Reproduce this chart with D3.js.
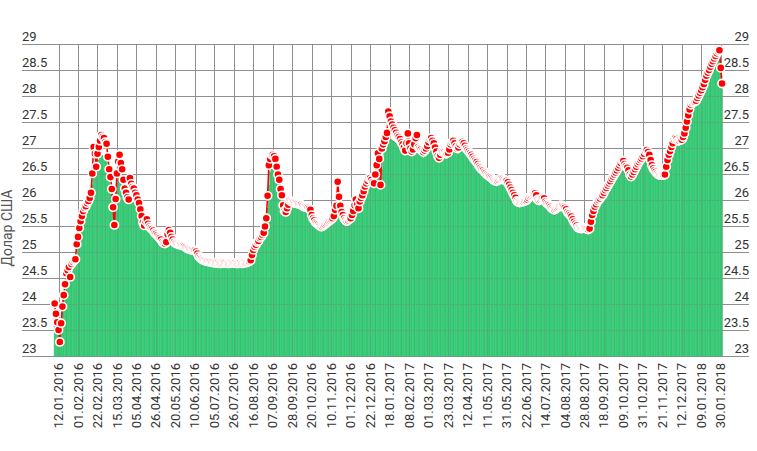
<!DOCTYPE html>
<html><head><meta charset="utf-8">
<script src="https://cdn.jsdelivr.net/npm/d3@7"></script>
<style>body{margin:0;background:#fff}svg{display:block}text{font-family:Roboto,"Open Sans",Arial,sans-serif}</style>
</head><body><svg id="c" width="757" height="451"></svg>
<script>
const tickLabels = ["12.01.2016","01.02.2016","22.02.2016","15.03.2016","05.04.2016","26.04.2016","20.05.2016","10.06.2016","05.07.2016","26.07.2016","16.08.2016","07.09.2016","28.09.2016","20.10.2016","10.11.2016","01.12.2016","22.12.2016","18.01.2017","08.02.2017","01.03.2017","23.03.2017","12.04.2017","11.05.2017","31.05.2017","22.06.2017","14.07.2017","04.08.2017","28.08.2017","18.09.2017","09.10.2017","31.10.2017","21.11.2017","12.12.2017","09.01.2018","30.01.2018"];
const tickStart = 3, tickStep = 15;
const yTicks = [23,23.5,24,24.5,25,25.5,26,26.5,27,27.5,28,28.5,29];
const yTitle = "Долар США";

// red points (market rate)
const marketRate = [
24.02,23.82,23.66,23.51,23.28,23.64,23.96,24.18,24.39,24.60,24.66,24.72,24.53,24.78,24.82,24.85,24.87,25.16,
25.30,25.47,25.60,25.70,25.80,25.86,25.89,25.95,25.99,26.05,26.15,26.52,27.03,26.90,26.65,
26.90,27.03,27.15,27.26,27.22,27.20,27.12,27.09,26.84,26.60,26.45,26.22,25.87,25.53,26.03,
26.52,26.75,26.88,26.72,26.60,26.40,26.23,26.15,26.06,26.02,26.43,26.32,26.26,26.23,26.15,
26.10,26.02,25.95,25.83,25.70,25.58,25.52,25.60,25.64,25.55,25.50,25.47,25.45,25.42,25.38,
25.36,25.33,25.30,25.28,25.25,25.20,25.18,25.17,25.20,25.35,25.43,25.38,25.30,25.25,25.20,
25.18,25.17,25.16,25.15,25.15,25.14,25.13,25.12,25.10,25.08,25.07,25.06,25.05,25.05,25.04,
25.04,25.02,24.98,24.93,24.90,24.88,24.86,24.85,24.84,24.83,24.83,24.82,24.82,24.81,24.81,
24.80,24.80,24.81,24.80,24.79,24.79,24.80,24.80,24.81,24.80,24.79,24.79,24.80,24.80,24.80,
24.80,24.80,24.79,24.79,24.80,24.80,24.79,24.80,24.80,24.80,24.81,24.82,24.83,24.85,24.95,
25.05,25.11,25.15,25.20,25.22,25.28,25.30,25.34,25.38,25.50,25.66,26.09,26.68,26.80,26.88,
26.88,26.85,26.80,26.65,26.50,26.40,26.22,26.10,25.91,25.80,25.78,25.85,25.92,26.00,25.98,
25.97,25.96,25.95,25.95,25.94,25.93,25.92,25.92,25.90,25.88,25.88,25.87,25.86,25.84,25.82,
25.72,25.66,25.62,25.58,25.56,25.54,25.52,25.50,25.50,25.52,25.54,25.56,25.58,25.60,25.62,
25.64,25.66,25.70,25.82,25.90,26.36,26.07,25.90,25.78,25.72,25.66,25.62,25.60,25.62,25.65,
25.66,25.72,25.80,25.91,26.02,25.92,25.85,25.98,26.05,26.10,26.18,26.27,26.33,26.38,26.43,
26.43,26.40,26.35,26.33,26.50,26.68,26.91,26.80,26.30,27.00,27.08,27.14,27.22,27.30,27.71,
27.62,27.52,27.46,27.40,27.35,27.30,27.25,27.22,27.18,27.12,27.08,27.02,26.96,27.10,27.29,
27.10,27.00,26.94,26.98,27.08,27.20,27.26,27.03,27.00,26.98,26.95,26.93,26.96,27.00,27.05,
27.12,27.18,27.20,27.15,27.10,27.02,26.94,26.86,26.82,26.88,26.94,26.93,26.92,26.90,26.91,
26.92,26.98,27.08,27.12,27.15,27.10,27.04,27.00,27.02,27.08,27.12,27.13,27.10,27.05,27.00,
26.97,26.94,26.91,26.88,26.84,26.80,26.77,26.74,26.70,26.66,26.63,26.60,26.58,26.55,26.53,
26.50,26.48,26.46,26.44,26.42,26.40,26.38,26.37,26.38,26.40,26.42,26.43,26.42,26.40,26.38,
26.38,26.35,26.30,26.25,26.20,26.15,26.10,26.05,25.99,25.97,25.96,25.97,25.98,25.98,25.99,
26.00,26.02,26.05,26.08,26.10,26.12,26.13,26.14,26.10,26.02,26.00,26.02,26.04,26.05,26.04,
25.98,25.95,25.93,25.91,25.88,25.85,25.83,25.82,25.84,25.86,25.88,25.90,25.91,25.90,25.88,
25.86,25.83,25.78,25.75,25.72,25.69,25.64,25.59,25.55,25.52,25.48,25.47,25.46,25.46,25.47,
25.47,25.46,25.45,25.44,25.46,25.59,25.72,25.80,25.88,25.93,25.98,26.01,26.04,26.08,26.10,
26.15,26.20,26.24,26.29,26.33,26.37,26.42,26.46,26.50,26.54,26.58,26.63,26.68,26.72,26.77,
26.76,26.70,26.66,26.63,26.58,26.50,26.46,26.50,26.55,26.60,26.65,26.70,26.74,26.78,26.81,
26.85,26.90,26.95,26.97,26.93,26.88,26.78,26.68,26.62,26.58,26.55,26.52,26.50,26.49,26.49,
26.49,26.49,26.50,26.65,26.78,26.88,26.95,27.03,27.10,27.18,27.20,27.18,27.15,27.15,27.17,
27.17,27.22,27.29,27.40,27.52,27.64,27.75,27.84,27.88,27.90,27.90,27.92,27.97,28.02,28.07,
28.12,28.18,28.24,28.32,28.40,28.46,28.51,28.57,28.63,28.68,28.73,28.78,28.83,28.87,28.89,
28.55,28.25];

// green bars (official rate)
const officialRate = [
23.95,23.78,23.60,23.45,23.25,23.50,23.85,24.08,24.28,24.48,24.55,24.60,24.50,24.62,24.68,24.72,24.76,24.95,
25.15,25.35,25.50,25.60,25.70,25.76,25.80,25.85,25.90,25.95,26.05,26.30,26.60,26.72,26.62,
26.70,26.78,26.82,26.85,26.86,26.85,26.82,26.78,26.68,26.50,26.30,26.12,25.90,25.72,25.85,
26.20,26.45,26.62,26.60,26.50,26.35,26.18,26.08,26.00,25.95,26.15,26.20,26.18,26.15,26.08,
26.00,25.92,25.85,25.75,25.63,25.52,25.46,25.50,25.52,25.48,25.44,25.41,25.38,25.35,25.31,
25.29,25.26,25.24,25.22,25.19,25.15,25.13,25.12,25.14,25.24,25.32,25.32,25.26,25.21,25.16,
25.14,25.13,25.12,25.11,25.11,25.10,25.09,25.08,25.06,25.04,25.03,25.02,25.01,25.01,25.00,
24.99,24.97,24.93,24.89,24.86,24.84,24.82,24.81,24.80,24.79,24.79,24.78,24.78,24.77,24.77,
24.77,24.77,24.78,24.77,24.76,24.76,24.77,24.77,24.78,24.77,24.76,24.76,24.77,24.77,24.77,
24.77,24.77,24.76,24.76,24.77,24.77,24.76,24.77,24.77,24.77,24.78,24.79,24.80,24.82,24.90,
24.98,25.05,25.10,25.15,25.18,25.23,25.26,25.30,25.34,25.42,25.55,25.85,26.30,26.55,26.65,
26.68,26.68,26.66,26.55,26.42,26.32,26.16,26.04,25.86,25.76,25.72,25.76,25.84,25.90,25.91,
25.90,25.89,25.88,25.88,25.87,25.86,25.85,25.85,25.83,25.82,25.82,25.81,25.80,25.78,25.76,
25.66,25.60,25.56,25.53,25.51,25.49,25.47,25.45,25.45,25.47,25.49,25.51,25.53,25.55,25.57,
25.59,25.61,25.64,25.72,25.80,25.90,25.90,25.82,25.72,25.66,25.61,25.57,25.55,25.57,25.60,
25.61,25.66,25.73,25.82,25.90,25.86,25.80,25.90,25.98,26.03,26.10,26.18,26.24,26.29,26.33,
26.34,26.32,26.28,26.26,26.38,26.52,26.66,26.66,26.35,26.60,26.80,26.95,27.05,27.10,27.16,
27.18,27.18,27.16,27.14,27.12,27.10,27.08,27.05,27.02,26.98,26.95,26.90,26.85,26.90,27.00,
26.98,26.90,26.85,26.85,26.92,27.00,27.05,26.92,26.88,26.86,26.84,26.82,26.84,26.88,26.92,
26.98,27.02,27.05,27.02,26.98,26.92,26.85,26.78,26.74,26.76,26.82,26.82,26.81,26.80,26.80,
26.80,26.84,26.92,26.98,27.00,26.98,26.93,26.90,26.90,26.95,26.98,27.00,26.98,26.94,26.90,
26.86,26.83,26.80,26.77,26.73,26.70,26.67,26.64,26.60,26.56,26.53,26.50,26.48,26.45,26.43,
26.40,26.38,26.36,26.34,26.32,26.30,26.28,26.27,26.28,26.30,26.32,26.33,26.32,26.30,26.28,
26.27,26.24,26.20,26.15,26.10,26.05,26.00,25.95,25.90,25.88,25.87,25.88,25.89,25.89,25.90,
25.90,25.92,25.95,25.98,26.00,26.02,26.03,26.04,26.00,25.93,25.91,25.93,25.94,25.95,25.94,
25.88,25.85,25.83,25.81,25.78,25.75,25.73,25.72,25.74,25.76,25.78,25.80,25.81,25.80,25.78,
25.76,25.73,25.68,25.65,25.62,25.59,25.54,25.49,25.45,25.42,25.39,25.37,25.36,25.36,25.37,
25.37,25.36,25.35,25.34,25.36,25.48,25.62,25.70,25.78,25.83,25.88,25.91,25.94,25.98,26.00,
26.05,26.10,26.14,26.19,26.23,26.27,26.32,26.36,26.40,26.44,26.48,26.53,26.58,26.62,26.66,
26.66,26.60,26.56,26.52,26.47,26.40,26.36,26.40,26.45,26.50,26.55,26.60,26.64,26.68,26.71,
26.75,26.80,26.84,26.86,26.83,26.77,26.67,26.57,26.51,26.47,26.44,26.41,26.39,26.38,26.38,
26.38,26.38,26.40,26.55,26.68,26.78,26.85,26.93,27.00,27.08,27.10,27.08,27.05,27.05,27.07,
27.07,27.12,27.19,27.30,27.42,27.54,27.65,27.74,27.78,27.80,27.80,27.82,27.87,27.92,27.97,
28.02,28.08,28.14,28.22,28.30,28.36,28.41,28.47,28.53,28.58,28.63,28.68,28.73,28.77,28.80,
28.45,28.15];

const svg = d3.select("#c");
const plot = {l:54, r:722.7, t:44.5, b:356.5, gl:22, gr:749};
const x = d3.scaleBand().domain(d3.range(marketRate.length)).range([plot.l, plot.r]).padding(0);
const bw = x.bandwidth();
const cx = i => x(i) + bw/2;
const y = d3.scaleLinear().domain([23,29]).range([plot.b, plot.t]);
const tickIdx = tickLabels.map((d,k) => tickStart + k*tickStep);

function grid(g, op) {
  g.append("g").selectAll("line").data(tickIdx).join("line")
    .attr("x1", i => Math.round(cx(i)) + 0.5).attr("x2", i => Math.round(cx(i)) + 0.5)
    .attr("y1", plot.t).attr("y2", plot.b)
    .attr("stroke", "#8f8f8f").attr("stroke-opacity", op).attr("stroke-width", 1);
  g.append("g").selectAll("line").data(yTicks).join("line")
    .attr("x1", plot.gl).attr("x2", plot.gr)
    .attr("y1", d => y(d)).attr("y2", d => y(d))
    .attr("stroke", "#8f8f8f").attr("stroke-opacity", op).attr("stroke-width", 1);
}
grid(svg.append("g"), 1);

// bars
svg.append("g").selectAll("rect").data(officialRate).join("rect")
  .attr("x", (d,i) => x(i)).attr("width", bw)
  .attr("y", d => y(d)).attr("height", d => y(23) - y(d))
  .attr("fill", (d,i) => i % 2 ? "#2fcb72" : "#3fd482")
  .attr("stroke", "#22b35f").attr("stroke-width", 0.3);

grid(svg.append("g"), 0.3);

// y labels
const yl = svg.append("g").attr("font-size", 13).attr("fill", "#333");
yl.selectAll("text.l").data(yTicks).join("text").attr("class","l")
  .attr("x", plot.gl).attr("y", d => y(d) - 4).text(d => d);
yl.selectAll("text.r").data(yTicks).join("text").attr("class","r")
  .attr("x", plot.gr).attr("y", d => y(d) - 4).attr("text-anchor","end").text(d => d);

// x labels
svg.append("g").attr("font-size", 13).attr("fill", "#333")
  .selectAll("text").data(tickIdx).join("text")
  .attr("transform", i => `translate(${cx(i)},${363}) rotate(-90)`)
  .attr("text-anchor", "end").attr("dy", "0.35em")
  .text((i,k) => tickLabels[k]);

// y title
svg.append("text").attr("transform", "translate(12,228) rotate(-90)")
  .attr("text-anchor","middle").attr("font-size", 14).attr("fill", "#555").text(yTitle);

// red line
svg.append("path").datum(marketRate)
  .attr("d", d3.line().x((d,i) => cx(i)).y(d => y(d)))
  .attr("fill","none").attr("stroke","#ff0000").attr("stroke-width",1.6);
// dots
svg.append("g").selectAll("circle").data(marketRate).join("circle")
  .attr("cx", (d,i) => cx(i)).attr("cy", d => y(d)).attr("r", 4.1)
  .attr("fill", "#ff0000").attr("stroke", "#fff").attr("stroke-width", 1.6);
</script></body></html>
